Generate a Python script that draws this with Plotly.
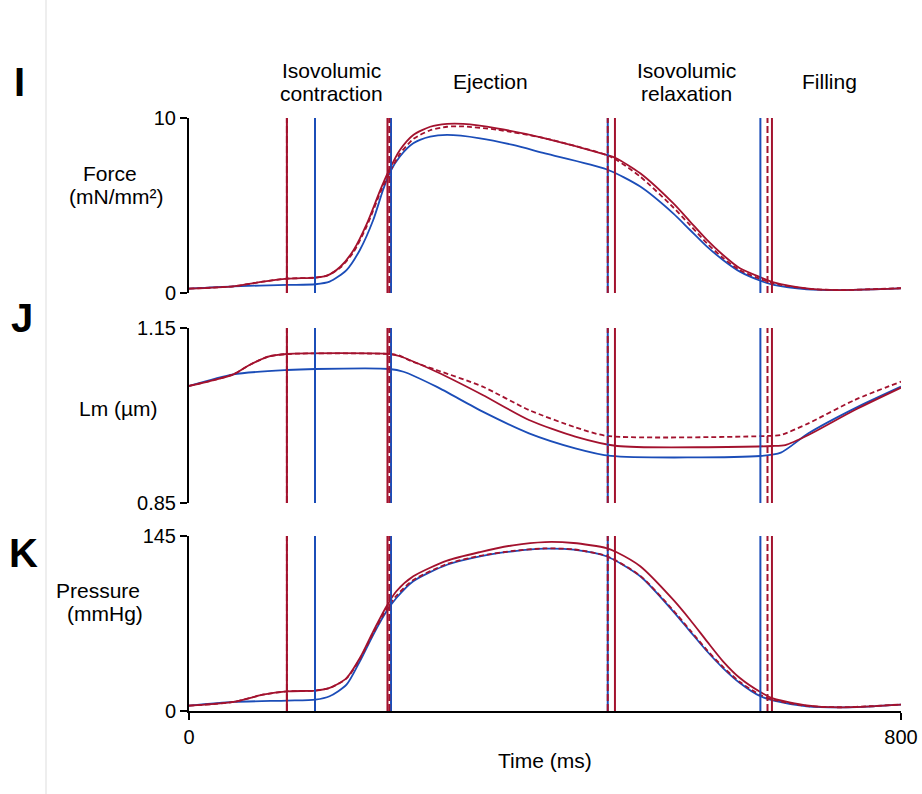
import plotly.graph_objects as go
from plotly.subplots import make_subplots

RED = "#A3122E"
BLUE = "#1B4DB8"
FONT = "Arial, Liberation Sans, sans-serif"

# ---------------- Force (mN/mm²) ----------------
force_blue_t = [0, 50, 110, 142, 158, 177, 192, 207, 218, 226, 237, 252, 271, 290, 327, 364, 400,
                469, 507, 544, 563, 582, 600, 619, 642, 657, 694, 731, 769, 800]
force_blue = [0.25, 0.38, 0.46, 0.5, 0.65, 1.31, 2.46, 4.17, 5.89, 6.93, 7.8, 8.55, 8.93, 9.03, 8.84, 8.46, 7.98,
              7.07, 6.08, 4.55, 3.6, 2.65, 1.89, 1.22, 0.7, 0.46, 0.21, 0.17, 0.21, 0.27]

force_red_t = [0, 50, 83, 110, 142, 155, 170, 185, 200, 215, 224, 237, 252, 271, 290, 308, 346, 400,
               469, 480, 507, 544, 563, 582, 600, 619, 642, 657, 694, 731, 769, 800]
force_red = [0.25, 0.38, 0.65, 0.82, 0.88, 0.99, 1.5, 2.46, 3.98, 5.89, 6.93, 8.17, 9.03, 9.5, 9.66, 9.66, 9.41, 8.84,
             7.89, 7.7, 6.84, 5.13, 4.08, 3.03, 2.17, 1.41, 0.9, 0.61, 0.27, 0.17, 0.21, 0.27]

force_dash_t = [0, 50, 83, 110, 142, 155, 170, 185, 200, 215, 225, 237, 252, 271, 290, 308, 346, 400,
                469, 480, 507, 544, 563, 582, 600, 619, 642, 657, 694, 731, 769, 800]
force_dash = [0.25, 0.38, 0.65, 0.82, 0.88, 0.99, 1.45, 2.35, 3.85, 5.75, 6.85, 7.95, 8.8, 9.3, 9.5, 9.52, 9.33, 8.84,
              7.89, 7.62, 6.65, 4.9, 3.88, 2.84, 2.0, 1.3, 0.8, 0.55, 0.25, 0.17, 0.22, 0.28]

# ---------------- Lm (µm) ----------------
lm_blue_t = [0, 50, 110, 142, 225, 241, 278, 330, 382, 434, 474, 642, 665, 696, 748, 800]
lm_blue = [1.0506, 1.0706, 1.078, 1.0797, 1.0797, 1.075, 1.0494, 1.0066, 0.9695, 0.9438, 0.9306, 0.9306,
           0.9363, 0.9695, 1.0123, 1.0494]

lm_red_t = [0, 50, 68, 89, 110, 225, 236, 278, 330, 382, 434, 481, 655, 670, 696, 748, 800]
lm_red = [1.0506, 1.0706, 1.0866, 1.1008, 1.1054, 1.1054, 1.102, 1.075, 1.0352, 0.9923, 0.9637, 0.9477, 0.9477,
          0.9494, 0.9666, 1.0094, 1.0477]

lm_dash_t = [0, 50, 68, 89, 110, 225, 236, 251, 278, 330, 382, 434, 470, 650, 665, 696, 748, 800]
lm_dash = [1.0506, 1.0706, 1.0866, 1.1008, 1.1054, 1.1054, 1.103, 1.0923, 1.078, 1.0494, 1.0094, 0.9798, 0.9649,
           0.9649, 0.9666, 0.9866, 1.0266, 1.058]

# ---------------- Pressure (mmHg) ----------------
p_blue_t = [0, 50, 110, 142, 158, 177, 192, 207, 222, 233, 252, 290, 327, 364, 400, 432, 469, 507, 544, 563,
            582, 600, 619, 642, 657, 694, 731, 769, 800]
p_blue = [4.4, 7.5, 8.6, 9.4, 12.2, 21.8, 41.2, 63.2, 82.6, 93.6, 107.5, 121.2, 128.2, 132.3, 134.5, 133.7, 128.2,
          111.6, 82.6, 66, 49.5, 35.6, 23.2, 12.2, 8.6, 3.9, 3.0, 3.9, 5.2]

p_red_t = [0, 50, 83, 110, 142, 158, 177, 192, 207, 222, 233, 252, 290, 327, 364, 400, 432, 469, 480, 507, 544,
           563, 582, 600, 619, 642, 657, 694, 731, 769, 800]
p_red = [4.4, 7.5, 13.5, 16.3, 16.9, 19.1, 27.3, 43.9, 66, 86.8, 99.2, 111.6, 124.6, 131.7, 137.3, 140, 139.2,
         135, 131.7, 119.9, 92.2, 75.6, 57.7, 41.2, 27.3, 15.7, 10.2, 4.7, 3.0, 3.9, 5.2]

p_dash_t = [0, 50, 83, 110, 142, 158, 177, 192, 207, 222, 233, 252, 290, 327, 364, 400, 432, 469, 507, 544,
            563, 582, 600, 619, 642, 657, 694, 731, 769, 800]
p_dash = [4.4, 7.5, 13.5, 16.3, 16.9, 19.1, 27, 43, 64.5, 84.5, 95.5, 108.5, 121.8, 128.6, 132.6, 134.7, 133.9,
          128.4, 112, 83.5, 67, 50.5, 36.5, 24, 13.2, 9.2, 4.2, 3.1, 4.1, 5.5]

# ---------------- Phase boundaries (ms) ----------------
bounds_blue = [141.6, 227, 470.5, 642]
bounds_red = [110, 223, 478.6, 655]
bounds_dash = [110, 225, 470.5, 650]

# ---------------- Axis settings ----------------
y_ranges = [[0, 10], [0.85, 1.15], [0, 145]]
y_ticktext = [["0", "10"], ["0.85", "1.15"], ["0", "145"]]
x_ticks = [0, 800]
phase_labels = [("Isovolumic", "contraction", 331), ("Ejection", None, 490),
                ("Isovolumic", "relaxation", 686), ("Filling", None, 829)]

W, H = 922, 794
L, R, T, B = 189, 21, 118, 83
PW, PH = W - L - R, H - T - B


def px_x(px):
    return (px - L) / PW


def px_y(py):
    return (H - B - py) / PH


fig = make_subplots(rows=3, cols=1)

panels = [
    (force_blue_t, force_blue, force_red_t, force_red, force_dash_t, force_dash),
    (lm_blue_t, lm_blue, lm_red_t, lm_red, lm_dash_t, lm_dash),
    (p_blue_t, p_blue, p_red_t, p_red, p_dash_t, p_dash),
]

for i, (bt, bv, rt, rv, dt, dv) in enumerate(panels):
    row = i + 1
    fig.add_trace(go.Scatter(x=bt, y=bv, mode="lines", line=dict(color=BLUE, width=1.8, shape="spline", smoothing=0.7)), row=row, col=1)
    fig.add_trace(go.Scatter(x=rt, y=rv, mode="lines", line=dict(color=RED, width=1.8, shape="spline", smoothing=0.7)), row=row, col=1)
    fig.add_trace(go.Scatter(x=dt, y=dv, mode="lines", line=dict(color=RED, width=1.8, dash="5px,3px", shape="spline", smoothing=0.7)), row=row, col=1)
    xr = "x" if row == 1 else f"x{row}"
    yr = "y domain" if row == 1 else f"y{row} domain"
    for t in bounds_blue:
        fig.add_shape(type="line", x0=t, x1=t, y0=0, y1=1, xref=xr, yref=yr, line=dict(color=BLUE, width=2))
    for t in bounds_red:
        fig.add_shape(type="line", x0=t, x1=t, y0=0, y1=1, xref=xr, yref=yr, line=dict(color=RED, width=2))
    for t in bounds_dash:
        fig.add_shape(type="line", x0=t, x1=t, y0=0, y1=1, xref=xr, yref=yr, line=dict(color=RED, width=2, dash="7px,3px"))

domains = [[px_y(293), px_y(118)], [px_y(503), px_y(328)], [px_y(711), px_y(536)]]

for i in range(3):
    row = i + 1
    xa = dict(range=[0, 800], domain=[0, 1], showgrid=False, zeroline=False, automargin=False)
    if row < 3:
        xa.update(visible=False)
    else:
        xa.update(showline=True, linecolor="black", linewidth=2, ticks="outside", ticklen=7, tickwidth=2,
                  tickcolor="black", tickvals=x_ticks, ticktext=[str(v) for v in x_ticks],
                  tickfont=dict(family=FONT, size=20, color="black"))
    fig.update_xaxes(xa, row=row, col=1)
    fig.update_yaxes(dict(range=y_ranges[i], domain=domains[i], showgrid=False, zeroline=False, showline=True,
                          automargin=False,
                          linecolor="black", linewidth=2, ticks="outside", ticklen=7, tickwidth=2, tickcolor="black",
                          tickvals=y_ranges[i], ticktext=y_ticktext[i],
                          tickfont=dict(family=FONT, size=20, color="black")), row=row, col=1)

annotations = []


def add_text(text, xpx, ypx, size=21):
    annotations.append(dict(text=text, x=px_x(xpx), y=px_y(ypx), xref="paper", yref="paper",
                            xanchor="center", yanchor="middle", showarrow=False,
                            font=dict(family=FONT, size=size, color="black")))


for l1, l2, cx in phase_labels:
    if l2 is None:
        add_text(l1, cx, 81)
    else:
        add_text(l1, cx, 70)
        add_text(l2, cx, 93)

add_text("Force", 110, 173)
add_text("(mN/mm²)", 116, 196)
add_text("Lm (µm)", 118, 408)
add_text("Pressure", 98, 590)
add_text("(mmHg)", 105, 613)
add_text("Time (ms)", 545, 760)
add_text("<b>I</b>", 19, 82, size=40)
add_text("<b>J</b>", 22, 318, size=40)
add_text("<b>K</b>", 23, 553, size=40)

fig.add_shape(type="line", xref="paper", yref="paper", x0=px_x(46), x1=px_x(46), y0=px_y(800), y1=px_y(0),
              line=dict(color="#DDDDDD", width=1))

fig.update_layout(width=W, height=H, margin=dict(l=L, r=R, t=T, b=B, pad=0, autoexpand=False), showlegend=False,
                  plot_bgcolor="white", paper_bgcolor="white", annotations=annotations,
                  font=dict(family=FONT, size=21, color="black"))

fig.write_html("out.html", config={"displayModeBar": False, "staticPlot": True},
               post_script="document.body.style.margin='0';document.body.style.overflow='hidden';")
